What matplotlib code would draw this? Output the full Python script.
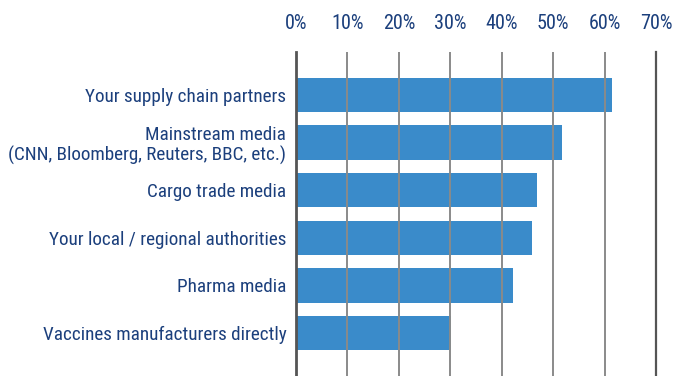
import matplotlib
matplotlib.use("Agg")
import matplotlib.pyplot as plt
from matplotlib import font_manager
from matplotlib.ticker import PercentFormatter

categories = [
    "Your supply chain partners",
    "Mainstream media\n(CNN, Bloomberg, Reuters, BBC, etc.)",
    "Cargo trade media",
    "Your local / regional authorities",
    "Pharma media",
    "Vaccines manufacturers directly",
]
shares = [61.5, 51.8, 46.9, 45.9, 42.2, 30.1]
ticks = [0, 10, 20, 30, 40, 50, 60, 70]

# look for a narrow sans face, regular weight
narrow = None
for f in font_manager.fontManager.ttflist:
    cond = "ondensed" in str(f.stretch) or "ondensed" in f.name or "Narrow" in f.name \
        or "ondensed" in f.fname or "Narrow" in f.fname
    if cond and f.weight in (400, "normal", "regular") and f.style == "normal":
        if narrow is None or "Roboto" in f.fname or "Liberation" in f.fname:
            narrow = f
if narrow is not None:
    fp = font_manager.FontProperties(fname=narrow.fname)
    tsize = 13.8
else:
    fp = font_manager.FontProperties(family="DejaVu Sans")
    tsize = 11.5

text_col = "#1b3f7c"
bar_col = "#3a8bca"

fig = plt.figure(figsize=(6.81, 3.76), dpi=100)
ax = fig.add_axes([296 / 681, 0.0, 360 / 681, 1 - 52 / 376])

y = list(range(len(categories)))
ax.barh(y, shares, height=0.72, color=bar_col, zorder=1)

ax.set_xlim(0, 70)
ax.set_ylim(len(categories) - 0.1, -0.9)
ax.set_xticks(ticks)
ax.xaxis.set_major_formatter(PercentFormatter(decimals=0))
ax.xaxis.tick_top()
ax.tick_params(axis="x", length=0, pad=14, labelcolor=text_col)
ax.set_yticks(y)
ax.set_yticklabels(categories)
ax.tick_params(axis="y", length=0, pad=7, labelcolor=text_col)
for lbl in ax.get_xticklabels() + ax.get_yticklabels():
    lbl.set_fontproperties(fp)
    lbl.set_fontsize(tsize)
for lbl in ax.get_xticklabels():
    lbl.set_fontsize(tsize + 0.7)
for lbl in ax.get_yticklabels():
    lbl.set_linespacing(1.15)

for t in ticks[1:-1]:
    ax.axvline(t, color="#8a8a8a", lw=1.4, zorder=2)

for side in ["top", "bottom"]:
    ax.spines[side].set_visible(False)
ax.spines["left"].set_color("#555555")
ax.spines["left"].set_linewidth(2)
ax.spines["right"].set_color("#555555")
ax.spines["right"].set_linewidth(1.6)

fig.savefig("out.png", dpi=100)
